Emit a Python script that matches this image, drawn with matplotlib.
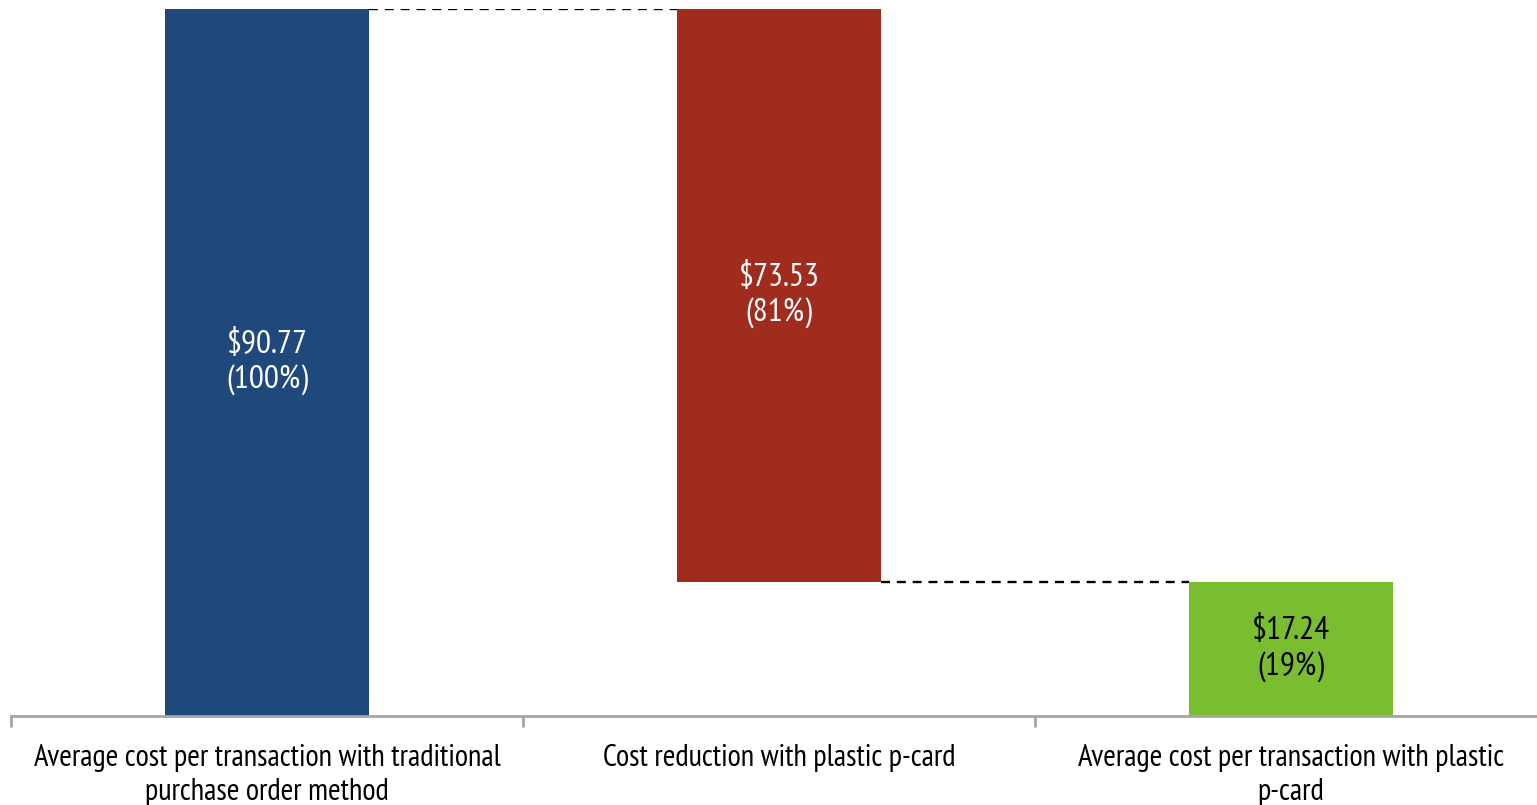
import matplotlib.pyplot as plt
import numpy as np

categories = ['Average cost per transaction with traditional\npurchase order method',
              'Cost reduction with plastic p-card',
              'Average cost per transaction with plastic\np-card']
values = [90.77, 73.53, 17.24]
percents = ['100%', '81%', '19%']
colors = ['#1F497A', '#A02C1E', '#7BBD30']
text_colors = ['white', 'white', 'black']

plt.rcParams['font.family'] = ['PT Sans Narrow', 'Roboto Condensed', 'DejaVu Sans']

fig = plt.figure(figsize=(15.37, 8.05), dpi=100)
ax = fig.add_axes([11 / 1537, 89 / 805, 1526 / 1537, 707 / 805])

# waterfall: first bar full, middle bar hangs from the top, last bar from zero
bottoms = [0, values[0] - values[1], 0]
x = np.arange(len(values))
width = 0.4
ax.bar(x, values, width, bottom=bottoms, color=colors, zorder=2)

for i in range(len(values)):
    ax.text(x[i], bottoms[i] + values[i] / 2, f'${values[i]:.2f}\n({percents[i]})',
            ha='center', va='center', color=text_colors[i], fontsize=24,
            linespacing=1.2)

# connector lines
ax.plot([x[0] + width / 2, x[1] - width / 2], [values[0], values[0]],
        color='black', ls=(0, (3.8, 2.9)), lw=1.7, zorder=3)
ax.plot([x[1] + width / 2, x[2] - width / 2], [bottoms[1], bottoms[1]],
        color='black', ls=(0, (3.8, 2.9)), lw=1.7, zorder=3)

ax.set_xlim(-0.5, -0.5 + 1526 / 512)
ax.set_ylim(0, values[0])

for s in ['top', 'right', 'left']:
    ax.spines[s].set_visible(False)
ax.spines['bottom'].set_color('#A6A6A6')
ax.spines['bottom'].set_linewidth(2)
ax.set_yticks([])

ax.set_xticks(x)
ax.set_xticklabels(categories, fontsize=22, linespacing=1.28)
ax.tick_params(axis='x', which='major', length=0, pad=20)
ax.set_xticks([-0.5, 0.5, 1.5], minor=True)
ax.tick_params(axis='x', which='minor', length=8, width=2, color='#A6A6A6')

fig.savefig('out.png', dpi=100)
